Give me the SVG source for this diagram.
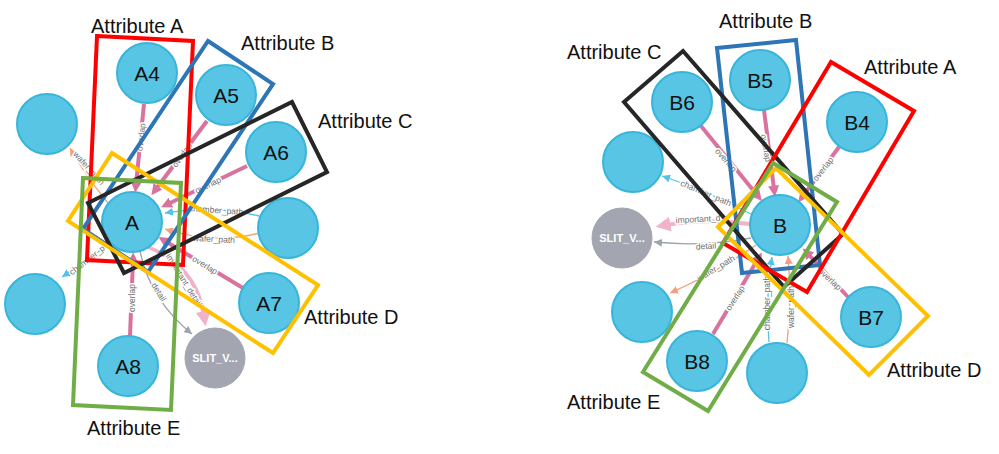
<svg xmlns="http://www.w3.org/2000/svg" width="999" height="454" viewBox="0 0 999 454">
<style>
.node{fill:#57c5e3;stroke:#38b5da;stroke-width:2}
.gnode{fill:#a3a6b1;stroke:#a3a6b1;stroke-width:1}
.nt{font-family:"Liberation Sans",Arial,sans-serif;font-size:21px;fill:#111;text-anchor:middle;dominant-baseline:central}
.st{font-family:"Liberation Sans",Arial,sans-serif;font-size:11px;font-weight:bold;fill:#fff;text-anchor:middle;dominant-baseline:central}
.ov{fill:none;stroke:#d8739e;stroke-width:4;marker-end:url(#mp)}
.imp{fill:none;stroke:#f0b3c9;stroke-width:4;marker-end:url(#mb)}
.ch{fill:none;stroke:#52c3e6;stroke-width:1.3;marker-end:url(#mc)}
.wf{fill:none;stroke:#f4a07f;stroke-width:1.3;marker-end:url(#mo)}
.dt{fill:none;stroke:#9fa3b0;stroke-width:1.3;marker-end:url(#mg)}
.el{font-family:"Liberation Sans",Arial,sans-serif;font-size:8.5px;fill:#6e6e6e;text-anchor:middle;dominant-baseline:central;stroke:#fff;stroke-width:3;paint-order:stroke;stroke-linejoin:round}
.box{fill:none;stroke-width:4}
.at{font-family:"Liberation Sans",Arial,sans-serif;font-size:20px;fill:#111}
</style>
<defs>
<marker id="mp" viewBox="0 0 10 10" markerUnits="userSpaceOnUse" markerWidth="11" markerHeight="11" refX="3" refY="5" orient="auto"><path d="M0,0 L10,5 L0,10 z" fill="#d8739e"/></marker>
<marker id="mb" viewBox="0 0 10 10" markerUnits="userSpaceOnUse" markerWidth="15" markerHeight="15" refX="3" refY="5" orient="auto"><path d="M0,0 L10,5 L0,10 z" fill="#f0b3c9"/></marker>
<marker id="mc" viewBox="0 0 10 10" markerUnits="userSpaceOnUse" markerWidth="8" markerHeight="8" refX="10" refY="5" orient="auto"><path d="M0,0 L10,5 L0,10 z" fill="#52c3e6"/></marker>
<marker id="mo" viewBox="0 0 10 10" markerUnits="userSpaceOnUse" markerWidth="8" markerHeight="8" refX="10" refY="5" orient="auto"><path d="M0,0 L10,5 L0,10 z" fill="#f4a07f"/></marker>
<marker id="mg" viewBox="0 0 10 10" markerUnits="userSpaceOnUse" markerWidth="8" markerHeight="8" refX="10" refY="5" orient="auto"><path d="M0,0 L10,5 L0,10 z" fill="#9fa3b0"/></marker>
</defs>
<rect width="999" height="454" fill="#fff"/>

<g id="connectors">
<!-- left graph -->
<path class="ov" d="M144,104 L136,185"/>
<path class="ov" d="M207,121 L156,189"/>
<path class="ov" d="M247,166 L168,204"/>
<path class="ov" d="M243,288 L165,241"/>
<path class="ov" d="M130,336 L133,260"/>
<path class="ch" d="M259,216 Q215,205 165,213"/>
<path class="wf" d="M259,233 Q215,245 165,229"/>
<path class="imp" d="M148,247 Q196,266 204,316"/>
<path class="dt" d="M140,251 Q150,300 192,334"/>
<path class="ch" d="M110,243 Q85,262 62,277"/>
<path class="wf" d="M108,203 Q85,175 70,148"/>
<text class="el" transform="translate(141,137) rotate(-84)">overlap</text>
<text class="el" transform="translate(182,155) rotate(-54)">overlap</text>
<text class="el" transform="translate(208,185) rotate(-26)">overlap</text>
<text class="el" transform="translate(205,265) rotate(31)">overlap</text>
<text class="el" transform="translate(132,298) rotate(-90)">overlap</text>
<text class="el" transform="translate(216,210) rotate(4)">chamber_path</text>
<text class="el" transform="translate(214,239) rotate(3)">wafer_path</text>
<text class="el" transform="translate(184,280) rotate(58)">important_detail</text>
<text class="el" transform="translate(159,292) rotate(58)">detail</text>
<text class="el" transform="translate(87,260) rotate(-38)">chamber_p</text>
<text class="el" transform="translate(89,168) rotate(48)">wafer_path</text>
<!-- right graph -->
<path class="ov" d="M701,126 L757,195"/>
<path class="ov" d="M764,110 L774,189"/>
<path class="ov" d="M839,147 L803,196"/>
<path class="ov" d="M713,334 L758,259"/>
<path class="ov" d="M848,297 L808,254"/>
<path class="ch" d="M751,214 Q705,190 662,176"/>
<path class="imp" d="M750,224 Q705,218 666,225"/>
<path class="dt" d="M751,238 Q705,247 654,242"/>
<path class="wf" d="M756,245 Q712,275 670,293"/>
<path class="ch" d="M769,342 Q765,300 772,257"/>
<path class="wf" d="M787,343 Q792,300 788,256"/>
<text class="el" transform="translate(726,160) rotate(49)">overlap</text>
<text class="el" transform="translate(766,148) rotate(80)">overlap</text>
<text class="el" transform="translate(823,169) rotate(-52)">overlap</text>
<text class="el" transform="translate(706,193) rotate(23)">chamber_path</text>
<text class="el" transform="translate(698,219) rotate(-3)">important_d</text>
<text class="el" transform="translate(706,246) rotate(-4)">detail</text>
<text class="el" transform="translate(716,268) rotate(-31)">wafer_path</text>
<text class="el" transform="translate(735,298) rotate(-57)">overlap</text>
<text class="el" transform="translate(767,303) rotate(-90)">chamber_path</text>
<text class="el" transform="translate(791,307) rotate(-90)">wafer_path</text>
<text class="el" transform="translate(830,279) rotate(43)">overlap</text>
</g>

<g id="left-nodes">
<g id="nA4"><circle class="node" cx="147" cy="73" r="30"/><text class="nt" x="147" y="73">A4</text></g>
<g id="nA5"><circle class="node" cx="226" cy="95" r="30"/><text class="nt" x="226" y="95">A5</text></g>
<g id="nA6"><circle class="node" cx="276" cy="152" r="30"/><text class="nt" x="276" y="152">A6</text></g>
<g id="nL1"><circle class="node" cx="47" cy="124" r="30"/></g>
<g id="nA"><circle class="node" cx="132" cy="222" r="30"/><text class="nt" x="132" y="222">A</text></g>
<g id="nL2"><circle class="node" cx="288" cy="228" r="30"/></g>
<g id="nL3"><circle class="node" cx="35" cy="304" r="30"/></g>
<g id="nA7"><circle class="node" cx="269" cy="303" r="30"/><text class="nt" x="269" y="303">A7</text></g>
<g id="nA8"><circle class="node" cx="128" cy="366" r="30"/><text class="nt" x="128" y="366">A8</text></g>
<g id="nSL"><circle class="gnode" cx="215" cy="358" r="30"/><text class="st" x="215" y="358">SLIT_V...</text></g>
</g>

<g id="right-nodes">
<g id="nB5"><circle class="node" cx="760" cy="80" r="30"/><text class="nt" x="760" y="80">B5</text></g>
<g id="nB6"><circle class="node" cx="682" cy="102" r="30"/><text class="nt" x="682" y="102">B6</text></g>
<g id="nB4"><circle class="node" cx="857" cy="122" r="30"/><text class="nt" x="857" y="122">B4</text></g>
<g id="nR1"><circle class="node" cx="633" cy="162" r="30"/></g>
<g id="nB"><circle class="node" cx="780" cy="225" r="30"/><text class="nt" x="780" y="225">B</text></g>
<g id="nSR"><circle class="gnode" cx="622" cy="238" r="30"/><text class="st" x="622" y="238">SLIT_V...</text></g>
<g id="nR2"><circle class="node" cx="642" cy="312" r="30"/></g>
<g id="nB8"><circle class="node" cx="697" cy="361" r="30"/><text class="nt" x="697" y="361">B8</text></g>
<g id="nR3"><circle class="node" cx="777" cy="373" r="30"/></g>
<g id="nB7"><circle class="node" cx="871" cy="317" r="30"/><text class="nt" x="871" y="317">B7</text></g>
</g>

<g id="left-attributes">
<polygon class="box" stroke="#ff0000" points="97,36 193,41 183,265 87,260"/>
<polygon class="box" stroke="#2e75b6" points="208,41 273,84 148,272 83,229"/>
<polygon class="box" stroke="#262626" points="88,203 292,102 327,172 124,273"/>
<polygon class="box" stroke="#ffc000" points="112,153 318,285 273,353 68,221"/>
<polygon class="box" stroke="#70ad47" points="83,178 181,183 171,410 73,405"/>
<text class="at" x="91" y="33">Attribute A</text>
<text class="at" x="241" y="50">Attribute B</text>
<text class="at" x="318" y="128">Attribute C</text>
<text class="at" x="304" y="324">Attribute D</text>
<text class="at" x="87" y="435">Attribute E</text>
</g>

<g id="right-attributes">
<polygon class="box" stroke="#2e75b6" points="717,48 796,40 820,265 742,273"/>
<polygon class="box" stroke="#262626" points="624,102 683,51 843,234 784,287"/>
<polygon class="box" stroke="#ff0000" points="831,62 914,111 807,292 723,243"/>
<polygon class="box" stroke="#ffc000" points="776,168 928,316 869,375 718,227"/>
<polygon class="box" stroke="#70ad47" points="773,163 837,202 708,411 643,372"/>
<text class="at" x="719" y="28">Attribute B</text>
<text class="at" x="567" y="59">Attribute C</text>
<text class="at" x="864" y="74">Attribute A</text>
<text class="at" x="887" y="377">Attribute D</text>
<text class="at" x="567" y="409">Attribute E</text>
</g>
</svg>
